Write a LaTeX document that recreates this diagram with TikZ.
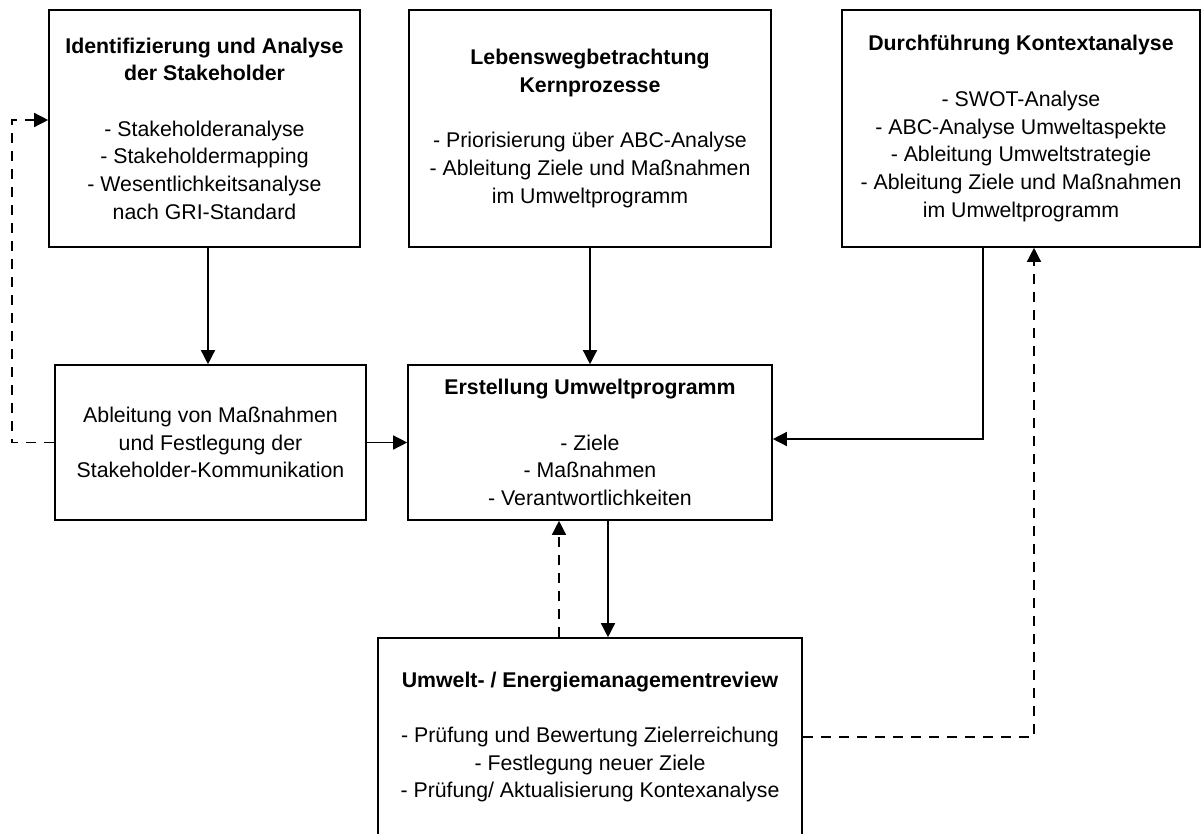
\documentclass[tikz,border=0pt]{standalone}
\usepackage{fontspec}
\setmainfont{Liberation Sans}
\usetikzlibrary{arrows.meta}
\tikzset{
  box/.style={draw=black, line width=1.6pt, fill=white, inner sep=0pt, align=center,
    font=\fontsize{21.3}{27.7}\selectfont},
  conn/.style={line width=1.4pt, draw=black},
  arr/.style={conn, -{Triangle[length=14pt,width=14pt]}},
  darr/.style={arr, dash pattern=on 10pt off 8pt},
}
\begin{document}
\begin{tikzpicture}[x=1pt,y=-1pt]
\useasboundingbox (0,0) rectangle (1202,833);
\clip (0,0) rectangle (1202,833);
% boxes
\node[box, minimum width=311pt, minimum height=237pt] (A) at (204.5,128.5)
  {\textbf{Identifizierung und Analyse}\\\textbf{der Stakeholder}\\[27.7pt]
   - Stakeholderanalyse\\- Stakeholdermapping\\- Wesentlichkeitsanalyse\\nach GRI-Standard};
\node[box, minimum width=362pt, minimum height=237pt] (B) at (590,128.5)
  {\textbf{Lebenswegbetrachtung}\\\textbf{Kernprozesse}\\[27.7pt]
   - Priorisierung über ABC-Analyse\\- Ableitung Ziele und Maßnahmen\\im Umweltprogramm};
\node[box, minimum width=358pt, minimum height=237pt] (C) at (1021,128.5)
  {\textbf{Durchführung Kontextanalyse}\\[27.7pt]
   - SWOT-Analyse\\- ABC-Analyse Umweltaspekte\\- Ableitung Umweltstrategie\\- Ableitung Ziele und Maßnahmen\\im Umweltprogramm};
\node[box, minimum width=311pt, minimum height=155pt] (D) at (210.5,442.5)
  {Ableitung von Maßnahmen\\und Festlegung der\\Stakeholder-Kommunikation};
\node[box, minimum width=364pt, minimum height=155pt] (E) at (590,442.5)
  {\textbf{Erstellung Umweltprogramm}\\[27.7pt]
   - Ziele\\- Maßnahmen\\- Verantwortlichkeiten};
\node[box, minimum width=424pt, minimum height=198pt] (F) at (590,737)
  {\textbf{Umwelt- / Energiemanagementreview}\\[27.7pt]
   - Prüfung und Bewertung Zielerreichung\\- Festlegung neuer Ziele\\- Prüfung/ Aktualisierung Kontexanalyse};
% helper coordinates
\coordinate (xad) at (208,0);
\coordinate (xc) at (983,439);
\coordinate (xl) at (12,120);
\coordinate (xef) at (608,0);
\coordinate (xfe) at (559,0);
\coordinate (xfc) at (1034,0);
% connectors
\draw[arr] (xad |- A.south) -- (xad |- D.north);
\draw[arr] (B.south) -- (E.north);
\draw[arr] (xc |- C.south) -- (xc) -- (E.east |- xc);
\draw[arr] (D.east) -- (E.west);
\draw[darr] (D.west) -| (xl) -- (A.west |- xl);
\draw[arr] (xef |- E.south) -- (xef |- F.north);
\draw[darr] (xfe |- F.north) -- (xfe |- E.south);
\draw[darr] (F.east) -| (xfc |- C.south);
\end{tikzpicture}
\end{document}
